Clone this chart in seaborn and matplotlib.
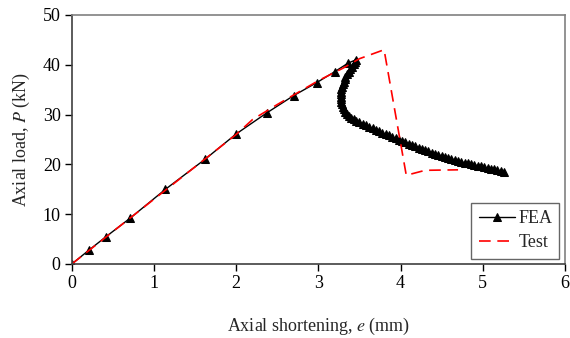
import numpy as np
import pandas as pd
import matplotlib
matplotlib.use("Agg")
import matplotlib.pyplot as plt
import seaborn as sns

fea_e = [0.0, 0.21, 0.41, 0.71, 1.14, 1.62, 2.0, 2.37, 2.7, 2.98, 3.2, 3.36, 3.46,
         3.45, 3.43, 3.41, 3.39, 3.37, 3.35, 3.33, 3.32, 3.31, 3.30, 3.29, 3.28,
         3.28, 3.27, 3.27, 3.27, 3.28, 3.29, 3.30, 3.31, 3.33, 3.35, 3.37, 3.40,
         3.43, 3.46, 3.50, 3.54, 3.58, 3.62, 3.66, 3.70, 3.74, 3.78, 3.82, 3.86,
         3.90, 3.94, 3.98, 4.02, 4.06, 4.10, 4.14, 4.18, 4.22, 4.26, 4.30, 4.34,
         4.38, 4.42, 4.46, 4.50, 4.54, 4.58, 4.62, 4.66, 4.70, 4.74, 4.78, 4.82,
         4.86, 4.90, 4.94, 4.98, 5.02, 5.06, 5.10, 5.14, 5.18, 5.22, 5.26]
fea_p = [0.0, 2.8, 5.4, 9.2, 15.0, 21.0, 26.1, 30.3, 33.8, 36.4, 38.6, 40.3, 41.0,
         40.6, 40.1, 39.6, 39.1, 38.6, 38.1, 37.6, 37.1, 36.6, 36.1, 35.6, 35.1,
         34.6, 34.1, 33.6, 33.1, 32.6, 32.1, 31.6, 31.1, 30.6, 30.2, 29.8, 29.4,
         29.0, 28.7, 28.4, 28.1, 27.8, 27.5, 27.2, 26.9, 26.6, 26.3, 26.0, 25.8,
         25.5, 25.2, 24.9, 24.7, 24.4, 24.1, 23.8, 23.6, 23.3, 23.1, 22.8, 22.6,
         22.3, 22.1, 21.9, 21.7, 21.5, 21.3, 21.1, 20.9, 20.7, 20.5, 20.3, 20.2,
         20.0, 19.9, 19.7, 19.6, 19.4, 19.3, 19.1, 19.0, 18.8, 18.7, 18.5]

# Test curve
test_e = [0.0, 0.5, 1.0, 1.5, 2.0, 2.2, 2.5, 3.0, 3.3, 3.5, 3.8, 4.07, 4.3, 4.7]
test_p = [0.0, 6.5, 13.0, 19.5, 26.0, 29.0, 32.0, 36.8, 39.3, 41.2, 43.0, 17.8, 18.8, 18.9]

x_ticks = [0, 1, 2, 3, 4, 5, 6]
y_ticks = [0, 10, 20, 30, 40, 50]

sns.set_style("ticks")
plt.rcParams['font.family'] = ['Liberation Serif', 'DejaVu Serif']
plt.rcParams['mathtext.fontset'] = 'stix'

fig, ax = plt.subplots(figsize=(5.7, 3.38), dpi=100)
fig.subplots_adjust(left=0.126, right=0.991, bottom=0.219, top=0.956)

df_fea = pd.DataFrame({'e': fea_e, 'P': fea_p})
df_test = pd.DataFrame({'e': test_e, 'P': test_p})

sns.lineplot(data=df_fea, x='e', y='P', sort=False, estimator=None, ax=ax,
             color='black', linewidth=1.0, marker='^', markersize=5.5,
             markeredgecolor='black', label='FEA')
sns.lineplot(data=df_test, x='e', y='P', sort=False, estimator=None, ax=ax,
             color='#ff0000', linewidth=1.2, label='Test')
ax.lines[-1].set_linestyle((0, (7, 4)))

ax.set_xlim(0, 6)
ax.set_ylim(0, 50)
ax.set_xticks(x_ticks)
ax.set_yticks(y_ticks)
ax.tick_params(axis='both', direction='out', length=5, width=1, labelsize=13,
               colors='black', pad=3)

for side in ['left', 'bottom']:
    ax.spines[side].set_color('#404040')
    ax.spines[side].set_linewidth(1.2)
for side in ['top', 'right']:
    ax.spines[side].set_visible(True)
    ax.spines[side].set_color('#808080')
    ax.spines[side].set_linewidth(1.2)

ax.set_xlabel('Axial shortening, $e$ (mm)', fontsize=13, labelpad=17)
ax.set_ylabel('Axial load, $P$ (kN)', fontsize=13, labelpad=8)

leg = ax.legend(loc='lower right', fontsize=13, frameon=True, fancybox=False,
                edgecolor='#404040', handlelength=2.0, borderpad=0.4,
                labelspacing=0.4, handletextpad=0.2, borderaxespad=0.3)
leg.get_frame().set_linewidth(1.0)

fig.savefig('out.png', dpi=100)
